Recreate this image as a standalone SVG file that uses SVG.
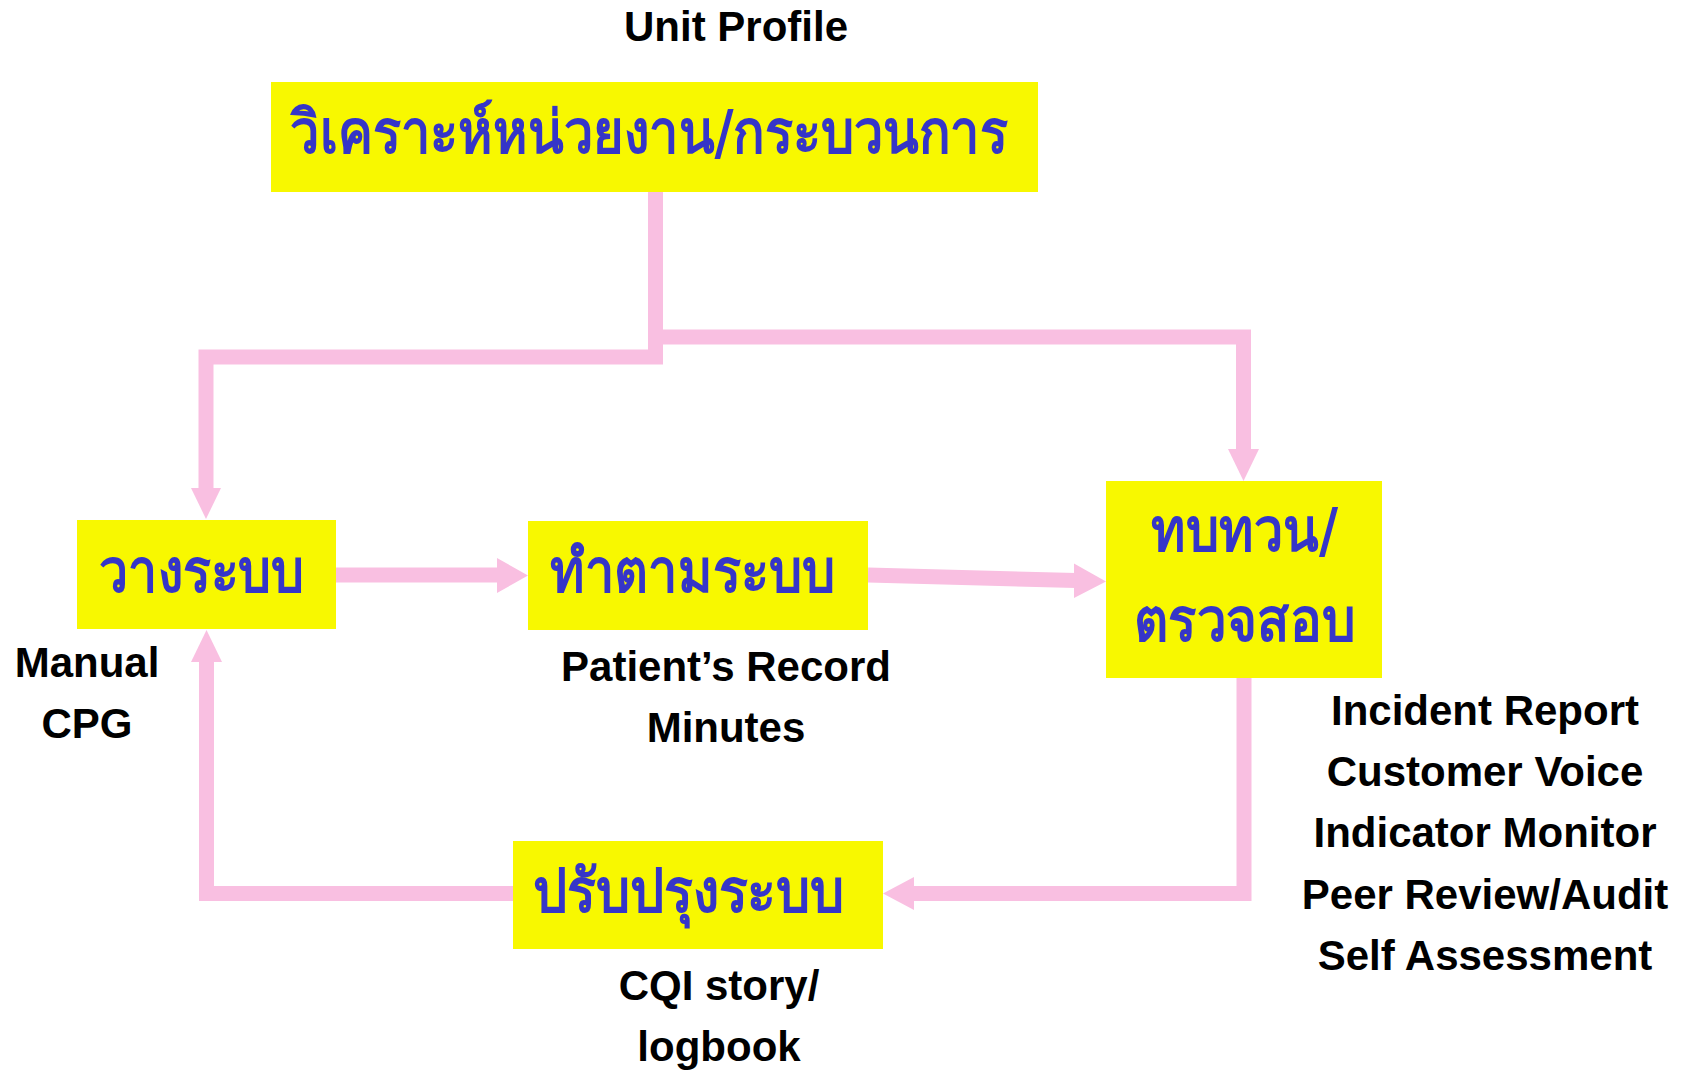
<svg xmlns="http://www.w3.org/2000/svg" width="1682" height="1070" viewBox="0 0 1682 1070">
  <style>
    .box { fill: #F8F800; }
    .th { font-family: "DejaVu Sans", "Noto Sans", sans-serif; font-weight: bold; font-size: 60px; fill: #3535C8; text-anchor: middle; }
    .lbl { font-family: "Liberation Sans", Arial, sans-serif; font-weight: bold; font-size: 42px; fill: #000; text-anchor: middle; }
    .wire { fill: none; stroke: #F9BFE1; stroke-width: 15; stroke-linejoin: miter; stroke-linecap: butt; }
    .head { fill: #F9BFE1; }
  </style>

  <rect width="1682" height="1070" fill="#fff"/>

  <!-- connectors -->
  <g id="connectors">
    <!-- top box splits to plan and review -->
    <path class="wire" d="M655.5 192 V357 H206 V490"/>
    <polygon class="head" points="191,488 221,488 206,519"/>
    <path class="wire" d="M655.5 337 H1243.5 V451"/>
    <polygon class="head" points="1228,449 1259,449 1243.5,481"/>
    <!-- plan to do -->
    <path class="wire" d="M336 575 H499"/>
    <polygon class="head" points="497,558 528,575.5 497,593"/>
    <!-- do to review -->
    <path class="wire" d="M868 575 L1076 580.5"/>
    <polygon class="head" points="1074,563.5 1106,581.5 1074,598"/>
    <!-- review to improve -->
    <path class="wire" d="M1244 678 V893.5 H912"/>
    <polygon class="head" points="914,877 883,893.5 914,910"/>
    <!-- improve back to plan -->
    <path class="wire" d="M513 893.5 H206.5 V660"/>
    <polygon class="head" points="191,662 222,662 206.5,630"/>
  </g>

  <!-- analysis of unit / process -->
  <g id="node-analysis">
    <rect class="box" x="271" y="82" width="767" height="110"/>
    <text class="th" x="649" y="153" textLength="718" lengthAdjust="spacingAndGlyphs">วิเคราะห์หน่วยงาน/กระบวนการ</text>
  </g>
  <text id="label-unit-profile" class="lbl" x="736" y="41">Unit Profile</text>

  <!-- plan the system -->
  <g id="node-plan">
    <rect class="box" x="77" y="520" width="259" height="109"/>
    <text class="th" x="201.5" y="592" textLength="205" lengthAdjust="spacingAndGlyphs">วางระบบ</text>
  </g>
  <g id="label-plan">
    <text class="lbl" x="87" y="677">Manual</text>
    <text class="lbl" x="87" y="738">CPG</text>
  </g>

  <!-- follow the system -->
  <g id="node-do">
    <rect class="box" x="528" y="521" width="340" height="109"/>
    <text class="th" x="692.5" y="592" textLength="285" lengthAdjust="spacingAndGlyphs">ทำตามระบบ</text>
  </g>
  <g id="label-do">
    <text class="lbl" x="726" y="681">Patient’s Record</text>
    <text class="lbl" x="726" y="742">Minutes</text>
  </g>

  <!-- review / check -->
  <g id="node-review">
    <rect class="box" x="1106" y="481" width="276" height="197"/>
    <text class="th" x="1244.5" y="551" textLength="187" lengthAdjust="spacingAndGlyphs">ทบทวน/</text>
    <text class="th" x="1244.5" y="641" textLength="221" lengthAdjust="spacingAndGlyphs">ตรวจสอบ</text>
  </g>
  <g id="label-review">
    <text class="lbl" x="1485" y="725">Incident Report</text>
    <text class="lbl" x="1485" y="786">Customer Voice</text>
    <text class="lbl" x="1485" y="847">Indicator Monitor</text>
    <text class="lbl" x="1485" y="909">Peer Review/Audit</text>
    <text class="lbl" x="1485" y="970">Self Assessment</text>
  </g>

  <!-- improve the system -->
  <g id="node-improve">
    <rect class="box" x="513" y="841" width="370" height="108"/>
    <text class="th" x="688.5" y="912" textLength="311" lengthAdjust="spacingAndGlyphs">ปรับปรุงระบบ</text>
  </g>
  <g id="label-improve">
    <text class="lbl" x="719" y="1000">CQI story/</text>
    <text class="lbl" x="719" y="1061">logbook</text>
  </g>
</svg>
